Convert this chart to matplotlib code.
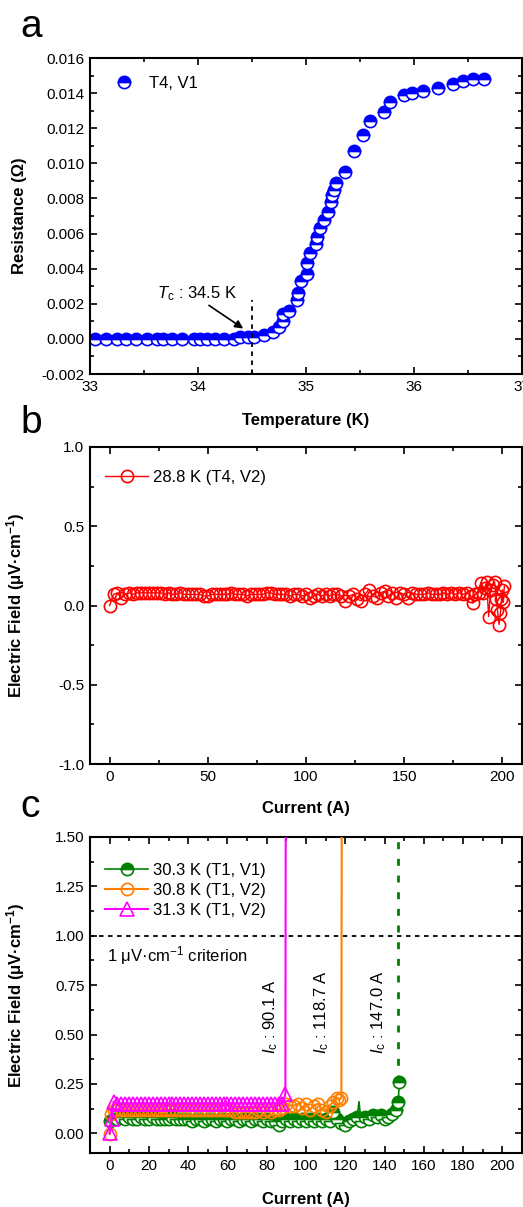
import numpy as np
import matplotlib
matplotlib.use("Agg")
import matplotlib.pyplot as plt
from matplotlib.ticker import MultipleLocator, FormatStrFormatter

plt.rcParams['font.family'] = ['Liberation Sans', 'DejaVu Sans']
plt.rcParams['mathtext.fontset'] = 'custom'
plt.rcParams['mathtext.rm'] = 'Liberation Sans'
plt.rcParams['mathtext.it'] = 'Liberation Sans:italic'
plt.rcParams['mathtext.bf'] = 'Liberation Sans:bold'
plt.rcParams['axes.unicode_minus'] = False

# ---- panel a: R(T) ----
a_temp = [33.05, 33.15, 33.25, 33.33, 33.43, 33.53, 33.62, 33.68, 33.76, 33.85,
          33.96, 34.02, 34.08, 34.16, 34.24, 34.33, 34.39, 34.46, 34.52, 34.61,
          34.69, 34.75, 34.79, 34.79, 34.84, 34.92, 34.93, 34.95, 35.01, 35.01,
          35.04, 35.09, 35.10, 35.13, 35.17, 35.20, 35.23, 35.24, 35.26, 35.28,
          35.36, 35.44, 35.53, 35.59, 35.72, 35.78, 35.91, 35.98, 36.08, 36.22,
          36.36, 36.45, 36.55, 36.65]
a_res = [0.0, 0.0, 0.0, 0.0, 0.0, 0.0, 0.0, 0.0, 0.0, 0.0,
         0.0, 0.0, 0.0, 0.0, 0.0, 0.0, 0.0001, 0.0001, 0.0001, 0.0002,
         0.0004, 0.0007, 0.0010, 0.0014, 0.0016, 0.0022, 0.0026, 0.0033, 0.0037, 0.0043,
         0.0049, 0.0054, 0.0058, 0.0063, 0.0068, 0.0072, 0.0078, 0.0082, 0.0085, 0.0089,
         0.0095, 0.0107, 0.0116, 0.0124, 0.0129, 0.0135, 0.0139, 0.0140, 0.0141, 0.0143,
         0.0145, 0.0147, 0.0148, 0.0148]
a_tc = 34.5

# ---- panel b: E(I) at 28.8 K ----
b_current = [0, 2, 4, 6, 8, 10, 12, 14, 16, 18,
             20, 22, 24, 26, 28, 30, 32, 34, 36, 38,
             40, 42, 44, 46, 48, 50, 52, 54, 56, 58,
             60, 62, 64, 66, 68, 70, 72, 74, 76, 78,
             80, 82, 84, 86, 88, 90, 92, 94, 96, 98,
             100, 102, 104, 106, 108, 110, 112, 114, 116, 118,
             120, 122, 124, 126, 128, 130, 132, 134, 136, 138,
             140, 142, 144, 146, 148, 150, 152, 154, 156, 158,
             160, 162, 164, 166, 168, 170, 172, 174, 176, 178,
             180, 182, 184, 185, 186, 188, 189, 190, 191, 192,
             193, 194, 195, 196, 197, 197.5, 198.3, 199, 199.5, 200,
             200.5, 201]
b_field = [0.00, 0.07, 0.08, 0.05, 0.07, 0.08, 0.07, 0.08, 0.08, 0.08,
           0.08, 0.08, 0.08, 0.08, 0.07, 0.08, 0.07, 0.07, 0.08, 0.07,
           0.07, 0.07, 0.07, 0.07, 0.06, 0.06, 0.07, 0.07, 0.07, 0.07,
           0.07, 0.08, 0.07, 0.07, 0.07, 0.06, 0.07, 0.07, 0.07, 0.07,
           0.08, 0.08, 0.07, 0.07, 0.07, 0.07, 0.06, 0.07, 0.07, 0.06,
           0.07, 0.05, 0.06, 0.07, 0.06, 0.07, 0.06, 0.07, 0.07, 0.06,
           0.03, 0.06, 0.07, 0.04, 0.03, 0.07, 0.10, 0.06, 0.05, 0.08,
           0.09, 0.06, 0.08, 0.05, 0.08, 0.07, 0.05, 0.08, 0.07, 0.07,
           0.07, 0.08, 0.07, 0.07, 0.07, 0.08, 0.07, 0.08, 0.07, 0.08,
           0.07, 0.08, 0.06, 0.015, 0.07, 0.08, 0.145, 0.08, 0.11, 0.15,
           -0.07, 0.10, 0.13, 0.15, 0.04, -0.03, -0.12, -0.05, 0.04, 0.10,
           0.02, 0.12]

# ---- panel c: E(I) for three temperatures ----
g_current = [0, 2, 4, 6, 8, 10, 12, 14, 16, 18,
             20, 22, 24, 26, 28, 30, 32, 34, 36, 38,
             40, 42, 44, 46, 48, 50, 52, 54, 56, 58,
             60, 62, 64, 66, 68, 70, 72, 74, 76, 78,
             80, 82, 84, 86, 88, 90, 92, 94, 96, 98,
             100, 102, 104, 106, 108, 110, 112, 114, 116, 118,
             120, 122, 124, 126, 127, 128, 130, 132, 134, 136,
             138, 140, 142, 144, 146, 147, 147.5]
g_field = [0.06, 0.07, 0.07, 0.08, 0.07, 0.08, 0.07, 0.07, 0.08, 0.07,
           0.07, 0.08, 0.07, 0.07, 0.07, 0.07, 0.08, 0.07, 0.07, 0.07,
           0.07, 0.06, 0.07, 0.07, 0.06, 0.07, 0.07, 0.06, 0.07, 0.07,
           0.06, 0.07, 0.07, 0.06, 0.07, 0.07, 0.06, 0.07, 0.07, 0.06,
           0.07, 0.06, 0.06, 0.04, 0.06, 0.07, 0.06, 0.07, 0.06, 0.07,
           0.06, 0.07, 0.06, 0.07, 0.06, 0.07, 0.06, 0.11, 0.07, 0.05,
           0.04, 0.06, 0.07, 0.08, 0.16, 0.06, 0.08, 0.07, 0.09, 0.08,
           0.09, 0.07, 0.08, 0.10, 0.12, 0.16, 0.26]
g_spike = 127  # a lone glitch point, drawn as line only

o_current = [0, 0.5, 2, 4, 6, 8, 10, 12, 14, 16, 18,
             20, 22, 24, 26, 28, 30, 32, 34, 36, 38,
             40, 42, 44, 46, 48, 50, 52, 54, 56, 58,
             60, 62, 64, 66, 68, 70, 72, 74, 76, 78,
             80, 82, 84, 86, 88, 90, 92, 94, 96, 98,
             100, 102, 104, 106, 108, 110, 112, 114, 116, 117,
             118, 118.7]
o_field = [-0.005, 0.10, 0.12, 0.12, 0.12, 0.12, 0.12, 0.12, 0.12, 0.12, 0.12,
           0.12, 0.12, 0.12, 0.12, 0.12, 0.12, 0.12, 0.12, 0.12, 0.12,
           0.12, 0.12, 0.12, 0.12, 0.12, 0.12, 0.12, 0.12, 0.12, 0.12,
           0.12, 0.12, 0.11, 0.11, 0.11, 0.11, 0.11, 0.11, 0.12, 0.11,
           0.12, 0.11, 0.12, 0.12, 0.13, 0.15, 0.14, 0.14, 0.15, 0.13,
           0.15, 0.12, 0.14, 0.15, 0.12, 0.11, 0.14, 0.16, 0.18, 0.17,
           0.18, 5.0]

m_current = [0, 1, 2, 4, 6, 8, 10, 12, 14, 16, 18,
             20, 22, 24, 26, 28, 30, 32, 34, 36, 38,
             40, 42, 44, 46, 48, 50, 52, 54, 56, 58,
             60, 62, 64, 66, 68, 70, 72, 74, 76, 78,
             80, 82, 84, 86, 88, 89.5, 90.1]
m_field = [0.00, 0.07, 0.16, 0.15, 0.15, 0.15, 0.15, 0.15, 0.15, 0.15, 0.15,
           0.15, 0.15, 0.15, 0.15, 0.15, 0.15, 0.15, 0.15, 0.15, 0.15,
           0.15, 0.15, 0.15, 0.15, 0.15, 0.15, 0.15, 0.15, 0.15, 0.15,
           0.15, 0.15, 0.15, 0.15, 0.15, 0.15, 0.15, 0.15, 0.15, 0.15,
           0.15, 0.15, 0.15, 0.15, 0.15, 0.20, 5.0]

c_labels = ['30.3 K (T1, V1)', '30.8 K (T1, V2)', '31.3 K (T1, V2)']
c_ic = [90.1, 118.7, 147.0]
criterion = 1.0

blue = '#0000FF'
red = '#FF0000'
green = '#008000'
orange = '#FF8000'
magenta = '#FF00FF'

FS = 12


def style(ax, xmaj, xmin, ymaj, ymin, yfmt):
    ax.tick_params(which='both', direction='in', top=True, right=True,
                   labelsize=11, width=1.2)
    ax.tick_params(which='major', length=5, pad=4)
    ax.tick_params(which='minor', length=3)
    ax.xaxis.set_major_locator(MultipleLocator(xmaj))
    ax.xaxis.set_minor_locator(MultipleLocator(xmin))
    ax.yaxis.set_major_locator(MultipleLocator(ymaj))
    ax.yaxis.set_minor_locator(MultipleLocator(ymin))
    ax.yaxis.set_major_formatter(FormatStrFormatter(yfmt))
    for s in ax.spines.values():
        s.set_linewidth(1.5)


fig = plt.figure(figsize=(5.23, 12.07), dpi=100)
W, H = 523.0, 1207.0
ax_a = fig.add_axes([90 / W, 1 - 374 / H, 432 / W, 316 / H])
ax_b = fig.add_axes([90 / W, 1 - 764 / H, 432 / W, 317 / H])
ax_c = fig.add_axes([90 / W, 1 - 1153 / H, 432 / W, 316 / H])

ylab_e = 'Electric Field (μV·cm$^{\\mathbf{-1}}$)'

# panel a
ax_a.plot(a_temp, a_res, 'o', ms=8.8, mew=1.2, color=blue, mec=blue,
          fillstyle='top', markerfacecoloralt='white', label='T4, V1')
ax_a.plot([a_tc, a_tc], [-0.002, 0.0022], color='black', lw=1.3, ls=(0, (2.5, 2.5)))
ax_a.annotate('', xy=(34.44, 0.0005), xytext=(34.08, 0.0020),
              arrowprops=dict(arrowstyle='-|>', color='black', lw=1.2, mutation_scale=12))
ax_a.text(33.62, 0.0026, r'$T_{\mathrm{c}}$ : 34.5 K', fontsize=FS, va='center')
ax_a.set_xlim(33, 37)
ax_a.set_ylim(-0.002, 0.016)
style(ax_a, 1, 0.5, 0.002, 0.001, '%.3f')
ax_a.set_xlabel('Temperature (K)', fontsize=FS, fontweight='bold')
ax_a.set_ylabel('Resistance (Ω)', fontsize=FS, fontweight='bold')
ax_a.legend(loc='upper left', frameon=False, fontsize=FS, handlelength=1.2,
            handletextpad=0.9, borderaxespad=0.5, bbox_to_anchor=(0.02, 0.99))

# panel b
ax_b.plot(b_current, b_field, '-o', ms=8.8, mew=1.2, lw=1.0, color=red,
          mfc='none', mec=red, label='28.8 K (T4, V2)')
ax_b.set_xlim(-10, 210)
ax_b.set_ylim(-1.0, 1.0)
style(ax_b, 50, 25, 0.5, 0.25, '%.1f')
ax_b.set_xlabel('Current (A)', fontsize=FS, fontweight='bold')
ax_b.set_ylabel(ylab_e, fontsize=FS, fontweight='bold')
ax_b.legend(loc='upper left', frameon=False, fontsize=FS, handlelength=2.6,
            handletextpad=0.3, borderaxespad=0.5, bbox_to_anchor=(0.0, 0.975))

# panel c
g_marks = [i for i, x in enumerate(g_current) if x != g_spike]
ax_c.plot(g_current, g_field, '-o', ms=8.8, mew=1.2, lw=1.2, color=green, mec=green,
          fillstyle='top', markerfacecoloralt='white', markevery=g_marks,
          label=c_labels[0], zorder=3)
ax_c.plot(o_current, o_field, '-o', ms=8.8, mew=1.2, lw=1.5, color=orange,
          mfc='none', mec=orange, label=c_labels[1], zorder=4)
ax_c.plot(m_current, m_field, '-^', ms=9.5, mew=1.2, lw=1.5, color=magenta,
          mfc='none', mec=magenta, label=c_labels[2], zorder=5)
ax_c.plot([c_ic[2], c_ic[2]], [g_field[-1], 1.5], color=green, lw=2.0,
          ls=(0, (2.5, 3.5)), zorder=3)
ax_c.axhline(criterion, color='black', lw=1.3, ls=(0, (2.5, 2.5)), zorder=2)
ax_c.text(-1.5, 0.90, '1 μV·cm$^{-1}$ criterion', fontsize=FS, va='center')
for xpos, ic in zip([81.9, 108.2, 137.1], c_ic):
    ax_c.text(xpos, 0.40, r'$I_{\mathrm{c}}$ : %.1f A' % ic, fontsize=FS,
              rotation=90, ha='center', va='bottom')
ax_c.set_xlim(-10, 210)
ax_c.set_ylim(-0.1, 1.5)
style(ax_c, 20, 10, 0.25, 0.125, '%.2f')
ax_c.set_xlabel('Current (A)', fontsize=FS, fontweight='bold')
ax_c.set_ylabel(ylab_e, fontsize=FS, fontweight='bold')
ax_c.legend(loc='upper left', frameon=False, fontsize=FS, handlelength=2.6,
            handletextpad=0.3, labelspacing=0.3, borderaxespad=0.5,
            bbox_to_anchor=(0.0, 0.965))

for ax, ly in [(ax_a, -0.123), (ax_b, -0.117), (ax_c, -0.123)]:
    ax.xaxis.set_label_coords(0.5, ly)
    ax.yaxis.set_label_coords(-0.146, 0.5)

fig.text(20 / W, 1 - 37 / H, 'a', fontsize=28)
fig.text(20 / W, 1 - 433 / H, 'b', fontsize=28)
fig.text(20 / W, 1 - 817 / H, 'c', fontsize=28)

fig.savefig('out.png', dpi=100)
